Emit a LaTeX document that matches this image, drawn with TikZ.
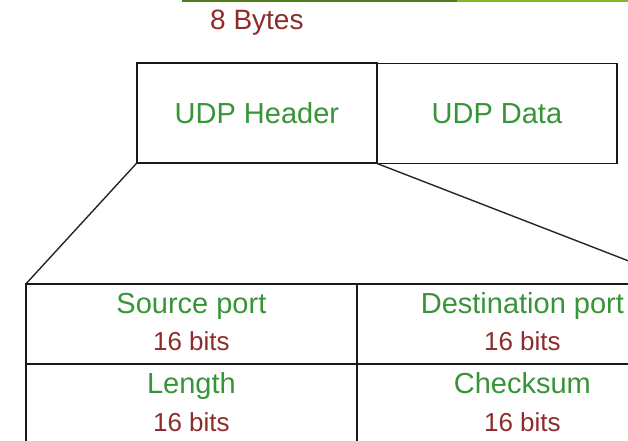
\documentclass[tikz,border=0pt]{standalone}
\usepackage{fontspec}
\setmainfont{Liberation Sans}
\usetikzlibrary{matrix}
\definecolor{namegreen}{HTML}{379437}
\definecolor{bitred}{HTML}{8E2B2B}
\definecolor{barolive}{HTML}{4E7D1E}
\definecolor{barlime}{HTML}{86B62E}
\tikzset{cell/.style={rectangle, draw=black!90, line width=1.8pt, inner sep=0pt}}
\tikzset{link/.style={draw=black!85, line width=1.4pt}}
\tikzset{fieldname/.style={anchor=base, text=namegreen, font=\fontsize{29}{34}\selectfont}}
\tikzset{fieldbits/.style={anchor=base, text=bitred, font=\fontsize{26}{31}\selectfont}}
\tikzset{pk/.style = {
   matrix of nodes, nodes in empty cells,
   inner sep=0pt, outer sep=0pt,
   column sep=-1.8pt,
   row sep=-1.8pt
}}

\begin{document}
\begin{tikzpicture}[x=1pt,y=-1pt]

    \clip (0,0) rectangle (628,440);
    \fill[barolive] (182,0) rectangle (457,2);
    \fill[barlime] (457,0) rectangle (628,2);

    % packet: header + data
    \matrix[pk, anchor=north west,
      nodes={cell, minimum width=240pt, minimum height=100pt,
             text=namegreen, font=\fontsize{29}{34}\selectfont}] (p) at (136,62)
      { UDP Header & UDP Data \\ };
    \node[fieldbits, text=bitred, font=\fontsize{28}{33}\selectfont] (bytes)
      at ([yshift=33pt]p-1-1.north) {8 Bytes};

    % header fields
    \matrix[pk, anchor=north west,
      nodes={cell, minimum width=331pt, minimum height=80pt}] (h) at (25,283)
      { & \\ & \\ };

    \node[fieldname] (src)  at ([yshift=-30pt]h-1-1.north) {Source port};
    \node[fieldbits] (srcb) at ([yshift=-67pt]h-1-1.north) {16 bits};
    \node[fieldname] (dst)  at ([yshift=-30pt]h-1-2.north) {Destination port};
    \node[fieldbits] (dstb) at ([yshift=-67pt]h-1-2.north) {16 bits};
    \node[fieldname] (len)  at ([yshift=-30pt]h-2-1.north) {Length};
    \node[fieldbits] (lenb) at ([yshift=-68pt]h-2-1.north) {16 bits};
    \node[fieldname] (chk)  at ([yshift=-30pt]h-2-2.north) {Checksum};
    \node[fieldbits] (chkb) at ([yshift=-68pt]h-2-2.north) {16 bits};

    \draw[link] (p-1-1.south west) -- (h-1-1.north west);
    \draw[link] (p-1-2.south west) -- (h-1-2.north east);

  \end{tikzpicture}
\end{document}
